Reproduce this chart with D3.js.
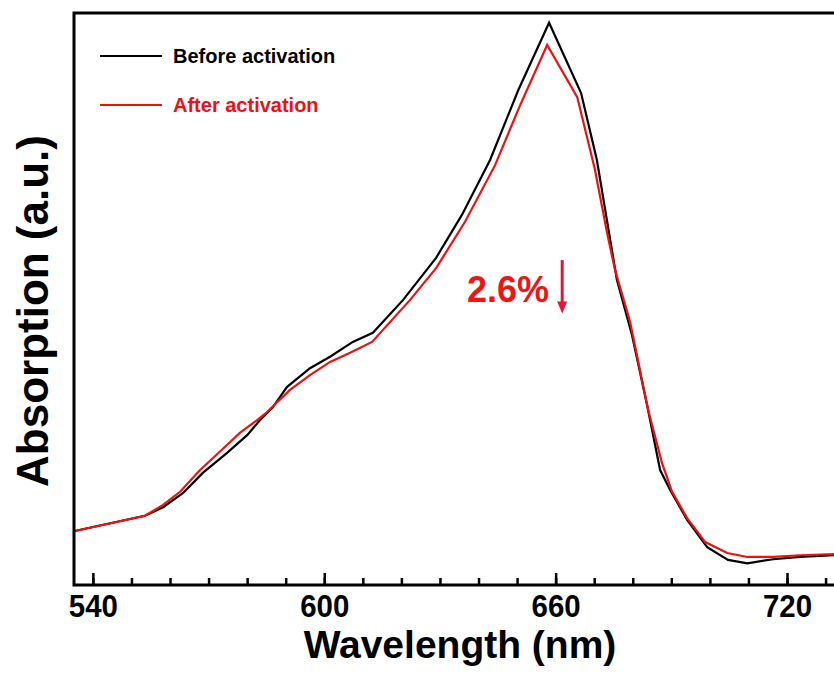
<!DOCTYPE html>
<html>
<head>
<meta charset="utf-8">
<script src="https://cdn.jsdelivr.net/npm/d3@7"></script>
<style>
  body { margin: 0; background: #fff; }
  svg { display: block; font-family: "Liberation Sans", Arial, sans-serif; font-weight: bold; }
</style>
</head>
<body>
<div id="chart"></div>
<script>
let width = 834;
let height = 675;
let margin = ({top: 13, right: -12, bottom: 90, left: 74});

// wavelength (nm) / absorption (a.u.)
let beforeNm = [535, 553.5, 558.2, 563.4, 568.5, 574.8, 580, 583.3, 586.7, 590.3, 596.3, 601.5, 607.4, 612.6,
    620.4, 629, 635.7, 643, 650.3, 658.3, 666.6, 670.7, 673.3, 675.9, 679.8, 683.7, 687.1, 689.7, 694.1,
    699.3, 704.7, 709.7, 716.4, 723.4, 732.2, 735.5];
let beforeAbs = [0.094, 0.121, 0.136, 0.161, 0.196, 0.231, 0.262, 0.288, 0.311, 0.346, 0.379, 0.399, 0.425, 0.441,
    0.498, 0.572, 0.647, 0.743, 0.865, 0.983, 0.860, 0.743, 0.638, 0.533, 0.437, 0.315, 0.201, 0.166, 0.114,
    0.066, 0.044, 0.038, 0.045, 0.049, 0.052, 0.052];

let afterNm = [535, 553.5, 558.2, 562.6, 567.8, 572.9, 578.1, 582.5, 585.1, 591.1, 596.3, 601.5, 606.7, 612.4,
    622.2, 629, 636.5, 644.3, 650.8, 657.8, 665.6, 670.2, 673.3, 675.4, 679.3, 684, 687.6, 690.2, 694.1,
    698.8, 704.5, 709.7, 716.4, 723.4, 732.2, 735.5];
let afterAbs = [0.094, 0.121, 0.140, 0.163, 0.201, 0.233, 0.266, 0.288, 0.302, 0.341, 0.367, 0.390, 0.406, 0.425,
    0.498, 0.554, 0.635, 0.734, 0.839, 0.944, 0.853, 0.726, 0.617, 0.551, 0.460, 0.306, 0.213, 0.163, 0.117,
    0.075, 0.056, 0.049, 0.049, 0.052, 0.054, 0.054];

let majorTicks = [540, 600, 660, 720];
let minorTicks = d3.range(540, 731, 10);

let seriesNames = ["Before activation", "After activation"];
let seriesColors = ["#000000", "#ee1111"];

// annotation: drop in peak absorption
let noteText = "2.6%";
let noteNm = 637;
let noteAbs = 0.495;
let arrowNm = 661.7;
let arrowAbs = [0.568, 0.478];

let before = beforeNm.map((d, i) => ({nm: d, a: beforeAbs[i]}));
let after = afterNm.map((d, i) => ({nm: d, a: afterAbs[i]}));

let svg = d3.select("#chart")
    .append("svg")
    .attr("width", width)
    .attr("height", height);

let x = d3.scaleLinear()
    .domain([535.1, 735.3])
    .range([margin.left, width - margin.right]);

let y = d3.scaleLinear()
    .domain([0, 1])
    .range([height - margin.bottom, margin.top]);

let line = d3.line()
    .x(d => x(d.nm))
    .y(d => y(d.a));

// curves
svg.append("path")
    .datum(before)
    .attr("fill", "none")
    .attr("stroke", seriesColors[0])
    .attr("stroke-width", 2.2)
    .attr("d", line);

svg.append("path")
    .datum(after)
    .attr("fill", "none")
    .attr("stroke", seriesColors[1])
    .attr("stroke-width", 2.2)
    .attr("d", line);

// frame
svg.append("rect")
    .attr("x", margin.left)
    .attr("y", margin.top)
    .attr("width", width - margin.right - margin.left)
    .attr("height", height - margin.bottom - margin.top)
    .attr("fill", "none")
    .attr("stroke", "#000")
    .attr("stroke-width", 3);

// minor ticks (inward)
svg.append("g")
    .attr("transform", "translate(0," + (height - margin.bottom) + ")")
    .call(d3.axisBottom(x).tickValues(minorTicks).tickSize(-7).tickFormat(""));

// major ticks + labels
let majorAxis = svg.append("g")
    .attr("transform", "translate(0," + (height - margin.bottom) + ")")
    .call(d3.axisBottom(x).tickValues(majorTicks).tickSizeInner(-12).tickSizeOuter(0).tickPadding(9));

svg.selectAll(".domain").remove();
svg.selectAll(".tick line").attr("stroke", "#000").attr("stroke-width", 2.5);
majorAxis.selectAll("text")
    .attr("font-size", 32)
    .attr("font-family", "Liberation Sans, Arial, sans-serif")
    .attr("font-weight", "bold")
    .attr("fill", "#000")
    .attr("transform", "scale(0.92,1)");

// axis titles
svg.append("text")
    .attr("x", (margin.left + width - margin.right) / 2)
    .attr("y", 658)
    .attr("text-anchor", "middle")
    .attr("font-size", 39)
    .text("Wavelength (nm)");

svg.append("text")
    .attr("transform", "translate(48," + 311 + ") rotate(-90)")
    .attr("text-anchor", "middle")
    .attr("font-size", 44)
    .text("Absorption (a.u.)");

// legend
let legend = svg.append("g").attr("transform", "translate(100,56)");
seriesNames.forEach(function(name, i) {
    let g = legend.append("g").attr("transform", "translate(0," + (i * 49) + ")");
    g.append("line")
        .attr("x1", 0).attr("x2", 62)
        .attr("stroke", seriesColors[i])
        .attr("stroke-width", 2.2);
    g.append("text")
        .attr("x", 73)
        .attr("y", 7)
        .attr("font-size", 20)
        .attr("fill", seriesColors[i])
        .text(name);
});

// annotation
svg.append("text")
    .attr("x", x(noteNm))
    .attr("y", y(noteAbs))
    .attr("font-size", 36)
    .attr("fill", "#f01515")
    .text(noteText);

let ax = x(arrowNm);
svg.append("line")
    .attr("x1", ax).attr("x2", ax)
    .attr("y1", y(arrowAbs[0])).attr("y2", y(arrowAbs[1]) - 8)
    .attr("stroke", "#e4143c")
    .attr("stroke-width", 3);
svg.append("path")
    .attr("d", "M" + (ax - 5) + "," + (y(arrowAbs[1]) - 10) + "L" + (ax + 5) + "," + (y(arrowAbs[1]) - 10) + "L" + ax + "," + (y(arrowAbs[1]) + 2) + "Z")
    .attr("fill", "#e4143c");
</script>
</body>
</html>
